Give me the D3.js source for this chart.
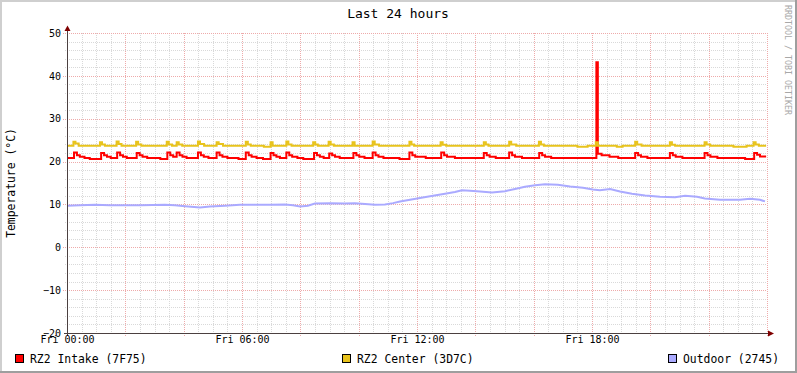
<!DOCTYPE html>
<html><head><meta charset="utf-8">
<script src="https://cdn.jsdelivr.net/npm/d3@7"></script>
<style>
html,body{margin:0;padding:0;background:#fff;}
svg{display:block;}
text{font-family:"DejaVu Sans Mono",monospace;}
</style></head>
<body>
<svg id="c" width="797" height="373"></svg>
<script>
// ---- data (hours since Fri 00:00, temperature °C), step-after breakpoints ----
const seriesNames = ["RZ2 Intake (7F75)", "RZ2 Center (3D7C)", "Outdoor (2745)"];
const seriesColors = ["#ff0000", "#e8c31c", "#aaaaff"];
const xTickHours = [0, 6, 12, 18];
const xTickLabels = ["Fri 00:00", "Fri 06:00", "Fri 12:00", "Fri 18:00"];
const yTicks = [-20, -10, 0, 10, 20, 30, 40, 50];

const intake = [
 [0,20.85],
 [0.24,22.1],[0.34,21.5],[0.44,21.15],[0.6,20.85],[0.78,20.6],
 [1.17,22.0],[1.27,21.5],[1.37,21.15],[1.5,20.85],
 [1.72,22.1],[1.82,21.5],[1.92,21.15],[2.05,20.85],
 [2.39,22.0],[2.49,21.5],[2.59,21.15],[2.75,20.85],[3.2,20.6],
 [3.44,22.1],[3.54,21.5],[3.64,21.1],
 [3.76,22.1],[3.86,21.5],[3.96,21.15],[4.1,20.85],
 [4.49,22.1],[4.59,21.5],[4.69,21.15],[4.85,20.85],
 [5.13,22.1],[5.23,21.5],[5.33,21.15],[5.5,20.85],[5.88,20.6],
 [6.13,22.1],[6.23,21.5],[6.33,21.15],[6.5,20.85],[6.72,20.6],
 [6.98,22.0],[7.08,21.5],[7.18,21.15],[7.3,20.85],
 [7.52,22.1],[7.62,21.5],[7.72,21.15],[7.9,20.85],[8.1,20.6],
 [8.47,22.0],[8.57,21.5],[8.67,21.15],[8.8,20.85],
 [8.99,21.9],[9.09,21.5],[9.19,21.15],[9.35,20.85],
 [9.82,22.0],[9.92,21.5],[10.02,21.15],[10.2,20.85],
 [10.48,22.1],[10.58,21.5],[10.68,21.15],[10.85,20.85],[11.4,20.6],
 [11.74,22.1],[11.84,21.5],[11.94,21.15],[12.3,20.85],
 [12.83,22.1],[12.93,21.5],[13.03,21.15],[13.3,20.85],
 [14.29,22.0],[14.39,21.5],[14.49,21.15],[14.7,20.85],
 [15.16,22.1],[15.26,21.5],[15.36,21.15],[15.6,20.85],
 [16.19,22.0],[16.29,21.5],[16.39,21.15],[16.6,20.85],
 [18.15,43.2],[18.2,21.8],[18.33,21.5],[18.6,21.15],[18.9,20.85],
 [19.48,22.0],[19.58,21.5],[19.68,21.15],[19.9,20.85],
 [20.67,22.0],[20.77,21.5],[20.87,21.15],[21.1,20.85],
 [21.86,22.0],[21.96,21.5],[22.06,21.15],[22.3,20.85],[23.25,20.6],
 [23.56,22.0],[23.66,21.6],[23.76,21.2],[23.97,21.2]
];

const center = [
 [0,23.7],
 [0.22,24.6],[0.29,24.2],[0.4,23.7],
 [1.13,24.5],[1.2,24.0],[1.3,23.7],
 [1.7,24.7],[1.77,24.1],[1.87,23.7],
 [2.37,24.6],[2.44,24.0],[2.55,23.7],
 [3.42,24.6],[3.49,24.0],[3.6,23.7],
 [3.76,24.5],[3.83,24.0],[3.95,23.7],
 [4.49,24.7],[4.56,24.1],[4.7,23.7],
 [5.13,24.5],[5.2,24.1],[5.35,23.7],
 [6.13,24.6],[6.2,24.0],[6.3,23.7],[6.75,23.45],
 [6.98,24.5],[7.05,23.7],
 [7.52,24.7],[7.59,24.0],[7.7,23.7],
 [8.44,24.5],[8.51,24.0],[8.6,23.7],
 [8.97,24.6],[9.04,24.0],[9.15,23.7],
 [9.79,24.5],[9.86,23.7],
 [10.48,24.7],[10.55,24.0],[10.7,23.7],
 [11.74,24.6],[11.81,24.0],[11.9,23.7],
 [12.81,24.5],[12.88,23.9],[13.0,23.7],
 [14.29,24.5],[14.36,24.0],[14.45,23.7],
 [15.16,24.6],[15.23,24.0],[15.4,23.7],
 [16.18,24.6],[16.25,24.0],[16.35,23.7],[17.5,23.45],[17.85,23.7],
 [18.13,24.5],[18.2,23.7],[18.85,23.45],[19.05,23.7],
 [19.48,24.6],[19.55,24.0],[19.7,23.7],
 [20.67,24.5],[20.74,23.9],[20.85,23.7],
 [21.86,24.5],[21.93,24.0],[22.05,23.7],[22.85,23.45],[23.3,23.7],
 [23.54,24.5],[23.61,24.0],[23.72,23.7],[23.97,23.7]
];

const outdoor = [
 [0,9.7],[0.45,9.8],[0.96,9.9],[1.47,9.8],[2.5,9.8],[3.36,9.9],[3.7,9.8],
 [4.05,9.6],[4.56,9.3],[4.9,9.5],[5.42,9.7],[5.93,9.9],[6.45,9.9],[6.96,9.9],
 [7.47,10.0],[7.75,9.8],[7.99,9.5],[8.26,9.7],[8.5,10.2],[9.02,10.3],[9.53,10.2],
 [9.87,10.3],[10.22,10.1],[10.56,9.9],[10.9,10.0],[11.18,10.3],[11.42,10.7],
 [11.76,11.1],[12.1,11.5],[12.55,12.0],[12.96,12.5],[13.3,12.9],[13.54,13.3],
 [13.82,13.2],[14.16,13.0],[14.57,12.8],[15.02,13.1],[15.36,13.6],[15.7,14.1],
 [16.05,14.5],[16.39,14.7],[16.83,14.6],[17.25,14.2],[17.69,13.9],[18.03,13.5],
 [18.27,13.3],[18.62,13.6],[18.96,13.0],[19.37,12.5],[19.82,12.1],[20.33,11.8],
 [20.85,11.7],[21.19,12.0],[21.6,11.8],[21.87,11.4],[22.39,11.1],[23.07,11.1],
 [23.42,11.3],[23.76,11.1],[23.93,10.7]
];

// ---- drawing ----
const W = 797, H = 373;
const svg = d3.select("#c");
const x = d3.scaleLinear().domain([0, 24]).range([67, 767]);
const y = d3.scaleLinear().domain([-20, 50]).range([333, 33]);
const px = v => Math.round(v) + 0.5;

// background & 3D border
svg.append("rect").attr("width", W).attr("height", H).attr("fill", "#ffffff");
svg.append("path").attr("d", `M0,0H${W}V2H2V${H}H0Z`).attr("fill", "#cfcfcf");
svg.append("path").attr("d", `M${W},${H}H0V${H-2}H${W-2}V0H${W}Z`).attr("fill", "#9e9e9e");

// grid
const g = svg.append("g");
const minorX = d3.range(0, 24.01, 0.5), minorY = d3.range(-20, 50.01, 2);
const minorColor = "#d9d9d9", majorColor = "#eeaaaa";
minorX.filter(h => h % 2 !== 0).forEach(h => {
  g.append("line").attr("x1", px(x(h))).attr("x2", px(x(h))).attr("y1", 33).attr("y2", 335)
   .attr("stroke", minorColor).attr("stroke-dasharray", "1,1");
});
minorY.filter(v => v % 10 !== 0).forEach(v => {
  g.append("line").attr("x1", 65).attr("x2", 767).attr("y1", px(y(v))).attr("y2", px(y(v)))
   .attr("stroke", minorColor).attr("stroke-dasharray", "1,1");
});
minorX.filter(h => h % 2 === 0 && h > 0).forEach(h => {
  g.append("line").attr("x1", px(x(h))).attr("x2", px(x(h))).attr("y1", 33).attr("y2", 337)
   .attr("stroke", majorColor).attr("stroke-dasharray", "1,1");
});
yTicks.filter(v => v > -20).forEach(v => {
  g.append("line").attr("x1", 63).attr("x2", 767).attr("y1", px(y(v))).attr("y2", px(y(v)))
   .attr("stroke", majorColor).attr("stroke-dasharray", "1,1");
});

// series
const line = d3.line().x(d => x(d[0])).y(d => y(d[1])).curve(d3.curveStepAfter);
const lineLin = d3.line().x(d => x(d[0])).y(d => y(d[1]));
[[intake, line], [center, line], [outdoor, lineLin]].forEach(([data, gen], i) => {
  svg.append("path").attr("d", gen(data)).attr("fill", "none")
    .attr("stroke", seriesColors[i]).attr("stroke-width", 2)
    .attr("stroke-linejoin", "miter").attr("stroke-linecap", "butt");
});

// axes lines
const axisColor = "#4b4040";
svg.append("line").attr("x1", 67.5).attr("x2", 67.5).attr("y1", 30).attr("y2", 336).attr("stroke", axisColor);
svg.append("line").attr("x1", 64).attr("x2", 770).attr("y1", 333.5).attr("y2", 333.5).attr("stroke", axisColor);
svg.append("path").attr("d", "M64.5,31L67.5,25.5L70.5,31Z").attr("fill", "#7f0000");
svg.append("path").attr("d", "M768,330.5L774,333.5L768,336.5Z").attr("fill", "#7f0000");

// tick labels via d3 axes
const yAxis = d3.axisLeft(y).tickValues(yTicks).tickSize(0).tickPadding(0);
const ya = svg.append("g").attr("transform", "translate(61,0)").call(yAxis);
ya.select(".domain").remove();
ya.selectAll("text").attr("font-size", 10).attr("fill", "#000").attr("font-family", "DejaVu Sans Mono");

const xAxis = d3.axisBottom(x).tickValues(xTickHours).tickSize(0).tickPadding(0)
  .tickFormat((d, i) => xTickLabels[i]);
const xa = svg.append("g").attr("transform", "translate(0,336)").call(xAxis);
xa.select(".domain").remove();
xa.selectAll("text").attr("font-size", 10).attr("fill", "#000").attr("font-family", "DejaVu Sans Mono");

// title, y label, watermark
svg.append("text").attr("x", 398).attr("y", 18).attr("text-anchor", "middle")
  .attr("font-size", 13).text("Last 24 hours");
svg.append("text").attr("transform", "translate(15,183) rotate(-90)").attr("text-anchor", "middle")
  .attr("font-size", 11.4).text("Temperature (°C)");
svg.append("text").attr("transform", "translate(785,5) rotate(90)").attr("text-anchor", "start")
  .attr("font-size", 8.3).attr("fill", "#a8a8a8").text("RRDTOOL / TOBI OETIKER");

// legend
const legendX = [15, 342, 668];
seriesNames.forEach((name, i) => {
  svg.append("rect").attr("x", legendX[i] + 0.5).attr("y", 354.5).attr("width", 8).attr("height", 8)
    .attr("fill", seriesColors[i]).attr("stroke", "#000");
  svg.append("text").attr("x", legendX[i] + 15).attr("y", 363).attr("font-size", 11.4).text(name);
});
</script>
</body></html>
